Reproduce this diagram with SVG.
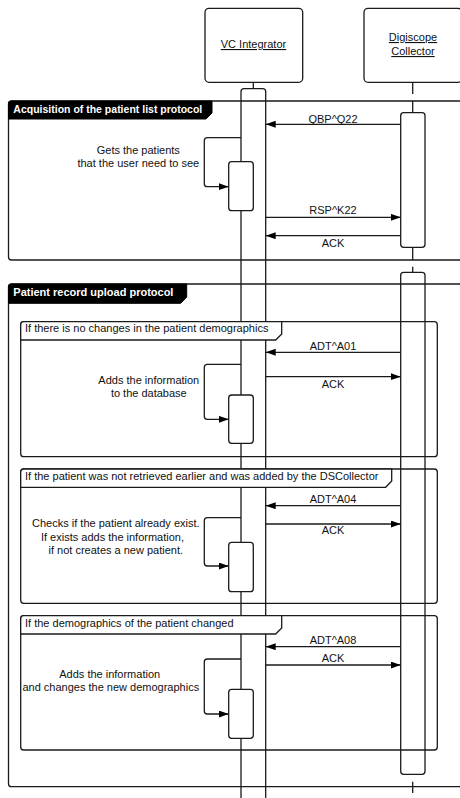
<svg xmlns="http://www.w3.org/2000/svg" width="460" height="798" viewBox="0 0 460 798">
<style>
.ln{stroke:#1a1a1a;stroke-width:1.3;fill:none}
.box{stroke:#1a1a1a;stroke-width:1.3;fill:#fff}
.t{font-family:"Liberation Sans",Arial,sans-serif;font-size:11px;fill:#111}
.c{text-anchor:middle}
.tb{font-family:"Liberation Sans",Arial,sans-serif;font-size:11px;font-weight:bold;fill:#fff}
.u{text-decoration:underline}
.tab{fill:#000;stroke:#000;stroke-width:1}
.wtab{fill:#fff;stroke:#1a1a1a;stroke-width:1.3}
.msg{stroke:#1a1a1a;stroke-width:1.3;fill:none;marker-end:url(#ah)}
</style>
<defs>
<marker id="ah" markerUnits="userSpaceOnUse" markerWidth="11" markerHeight="8" refX="10" refY="3.5" orient="auto">
<path d="M0,0 L10,3.5 L0,7 Z" fill="#000"/>
</marker>
</defs>

<g id="lifelines">
<line class="ln" x1="253.3" y1="82" x2="253.3" y2="89"/>
<line class="ln" x1="412.7" y1="82" x2="412.7" y2="94"/>
<line class="ln" x1="412.7" y1="100.7" x2="412.7" y2="112.7"/>
<line class="ln" x1="412.7" y1="247" x2="412.7" y2="260"/>
<line class="ln" x1="412.7" y1="266.7" x2="412.7" y2="272.3"/>
<line class="ln" x1="412.7" y1="781.7" x2="412.7" y2="793"/>
</g>

<g id="vc-integrator">
<rect class="box" x="205" y="8.3" width="97.7" height="74" rx="4"/>
<text class="t c u" x="253.5" y="48">VC Integrator</text>
</g>
<g id="digiscope-collector">
<rect class="box" x="364" y="8.3" width="98" height="74" rx="4"/>
<text class="t c u" x="413" y="41">Digiscope</text>
<text class="t c u" x="413" y="55">Collector</text>
</g>

<g id="activations">
<rect class="box" x="241" y="88.6" width="24.7" height="720" rx="3"/>
<rect class="box" x="400.7" y="112.7" width="24.3" height="134.6" rx="3"/>
<rect class="box" x="400.7" y="272.3" width="24.3" height="502" rx="3"/>
</g>

<g id="frame-acquisition">
<rect class="ln" x="8.5" y="101" width="470" height="159" rx="3"/>
</g>
<g id="frame-upload">
<rect class="ln" x="8.5" y="284" width="470" height="502.7" rx="3"/>
</g>
<g id="frame-no-changes">
<rect class="ln" x="20.7" y="321.7" width="416.6" height="135" rx="3"/>
</g>
<g id="frame-not-retrieved">
<rect class="ln" x="20.7" y="469" width="416.6" height="134.3" rx="3"/>
</g>
<g id="frame-demographics-changed">
<rect class="ln" x="20.7" y="615.7" width="416.6" height="134.3" rx="3"/>
</g>

<g id="self-activations">
<rect class="box" x="228.7" y="161.7" width="24.6" height="49" rx="3"/>
<rect class="box" x="228.7" y="395" width="24.6" height="48.3" rx="3"/>
<rect class="box" x="228.7" y="542.3" width="24.6" height="49.4" rx="3"/>
<rect class="box" x="228.7" y="689.3" width="24.6" height="49" rx="3"/>
</g>

<g id="connectors">
<line class="msg" x1="400.7" y1="124.3" x2="265.7" y2="124.3"/>
<line class="msg" x1="265.7" y1="217.3" x2="400.7" y2="217.3"/>
<line class="msg" x1="400.7" y1="235.7" x2="265.7" y2="235.7"/>
<line class="msg" x1="400.7" y1="352.3" x2="265.7" y2="352.3"/>
<line class="msg" x1="265.7" y1="376.7" x2="400.7" y2="376.7"/>
<line class="msg" x1="400.7" y1="505.7" x2="265.7" y2="505.7"/>
<line class="msg" x1="265.7" y1="524" x2="400.7" y2="524"/>
<line class="msg" x1="400.7" y1="646.7" x2="265.7" y2="646.7"/>
<line class="msg" x1="265.7" y1="665" x2="400.7" y2="665"/>
<path class="msg" d="M241,137.7 H207.3 Q204.3,137.7 204.3,140.7 V183.7 Q204.3,186.7 207.3,186.7 H228.7"/>
<path class="msg" d="M241,364.3 H207.3 Q204.3,364.3 204.3,367.3 V416.3 Q204.3,419.3 207.3,419.3 H228.7"/>
<path class="msg" d="M241,517.7 H207.3 Q204.3,517.7 204.3,520.7 V563 Q204.3,566 207.3,566 H228.7"/>
<path class="msg" d="M241,659 H207.3 Q204.3,659 204.3,662 V711 Q204.3,714 207.3,714 H228.7"/>
</g>

<g id="labels">
<text class="t c" x="333" y="123">QBP^Q22</text>
<text class="t c" x="333" y="214">RSP^K22</text>
<text class="t c" x="333" y="246.5">ACK</text>
<text class="t c" x="333" y="350">ADT^A01</text>
<text class="t c" x="333" y="387.5">ACK</text>
<text class="t c" x="333" y="502.5">ADT^A04</text>
<text class="t c" x="333" y="534.3">ACK</text>
<text class="t c" x="333" y="644">ADT^A08</text>
<text class="t c" x="333" y="662.3">ACK</text>
<text class="t c" x="138.3" y="154.3">Gets the patients</text>
<text class="t c" x="138.3" y="167">that the user need to see</text>
<text class="t c" x="148.8" y="384">Adds the information</text>
<text class="t c" x="148.8" y="397.3">to the database</text>
<text class="t c" x="115.8" y="527.3">Checks if the patient already exist.</text>
<text class="t c" x="112.5" y="540.5">If exists adds the information,</text>
<text class="t c" x="115.8" y="554">if not creates a new patient.</text>
<text class="t c" x="109.7" y="677.7">Adds the information</text>
<text class="t c" x="110.8" y="691.3">and changes the new demographics</text>
</g>

<g id="tabs">
<path class="tab" d="M8.5,104 Q8.5,101 11.5,101 H212 V113 L206,119 H8.5 Z"/>
<text class="tb" x="13.3" y="112.5" style="font-size:10.5px">Acquisition of the patient list protocol</text>
<path class="tab" d="M8.5,287 Q8.5,284 11.5,284 H186.7 V297 L180.7,303.3 H8.5 Z"/>
<text class="tb" x="13.3" y="295.7">Patient record upload protocol</text>
<path class="wtab" d="M20.7,324.7 Q20.7,321.7 23.7,321.7 H281.7 V334 L275.7,340 H20.7 Z"/>
<text class="t" x="25" y="332.3">If there is no changes in the patient demographics</text>
<path class="wtab" d="M20.7,472 Q20.7,469 23.7,469 H391.7 V481 L385.7,487.3 H20.7 Z"/>
<text class="t" x="25" y="480">If the patient was not retrieved earlier and was added by the DSCollector</text>
<path class="wtab" d="M20.7,618.7 Q20.7,615.7 23.7,615.7 H281.7 V628 L275.7,634 H20.7 Z"/>
<text class="t" x="25" y="627.3">If the demographics of the patient changed</text>
</g>
</svg>
